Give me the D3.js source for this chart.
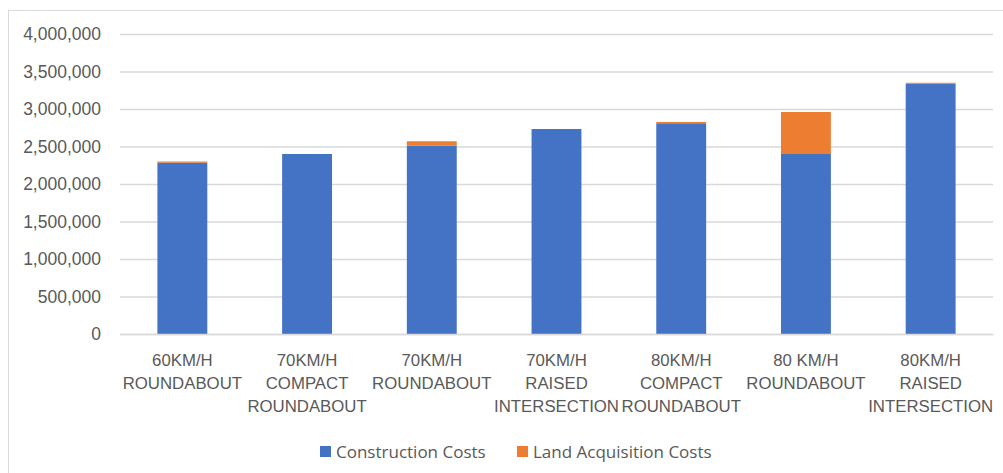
<!DOCTYPE html>
<html>
<head>
<meta charset="utf-8">
<script src="https://cdn.jsdelivr.net/npm/d3@7"></script>
<style>
  html, body { margin: 0; padding: 0; background: #fff; }
  svg { display: block; font-family: "Open Sans", "Liberation Sans", sans-serif; }
</style>
</head>
<body>
<svg id="chart" width="1003" height="473"></svg>
<script>
// Intersection options: cost breakdown
const categories = [
  "60KM/H\nROUNDABOUT",
  "70KM/H\nCOMPACT\nROUNDABOUT",
  "70KM/H\nROUNDABOUT",
  "70KM/H\nRAISED\nINTERSECTION",
  "80KM/H\nCOMPACT\nROUNDABOUT",
  "80 KM/H\nROUNDABOUT",
  "80KM/H\nRAISED\nINTERSECTION"
];
const constructionCosts = [2285000, 2400000, 2510000, 2733000, 2810000, 2400000, 3337000];
const landAcquisitionCosts = [15000, 0, 60000, 0, 17000, 560000, 13000];
const seriesNames = ["Construction Costs", "Land Acquisition Costs"];
const seriesColors = ["#4472C4", "#ED7D31"];
const yTicks = [0, 500000, 1000000, 1500000, 2000000, 2500000, 3000000, 3500000, 4000000];

const svg = d3.select("#chart");
const plot = { left: 120, right: 993, top: 34, bottom: 334 };
const textColor = "#595959";
const gridColor = "#d9d9d9";

// chart frame
svg.append("rect")
  .attr("x", 8.5).attr("y", 10.5)
  .attr("width", 1010).attr("height", 480)
  .attr("fill", "#fff").attr("stroke", gridColor).attr("stroke-width", 1);

const x = d3.scaleBand()
  .domain(categories)
  .range([plot.left, plot.right])
  .paddingInner(0.6)
  .paddingOuter(0.3);

const y = d3.scaleLinear()
  .domain([0, 4000000])
  .range([plot.bottom, plot.top]);

// gridlines + value labels
const yAxis = d3.axisLeft(y)
  .tickValues(yTicks)
  .tickFormat(d3.format(","))
  .tickSize(-(plot.right - plot.left))
  .tickPadding(19);

const gy = svg.append("g")
  .attr("transform", `translate(${plot.left},0)`)
  .call(yAxis);
gy.select(".domain").remove();
gy.selectAll(".tick line").attr("stroke", gridColor).attr("stroke-width", 1.3);
gy.selectAll(".tick text")
  .attr("fill", textColor)
  .attr("font-size", 17.5);

// stacked bars
const rows = categories.map((c, i) => ({
  category: c,
  construction: constructionCosts[i],
  land: landAcquisitionCosts[i]
}));
const stack = d3.stack().keys(["construction", "land"]);
const layers = stack(rows);

svg.append("g")
  .selectAll("g")
  .data(layers)
  .join("g")
  .attr("fill", (d, i) => seriesColors[i])
  .selectAll("rect")
  .data(d => d)
  .join("rect")
  .attr("x", d => x(d.data.category))
  .attr("width", x.bandwidth())
  .attr("y", d => y(d[1]))
  .attr("height", d => y(d[0]) - y(d[1]));

// category axis
const xAxis = d3.axisBottom(x).tickSize(0).tickFormat("");
const gx = svg.append("g")
  .attr("transform", `translate(0,${plot.bottom})`)
  .call(xAxis);
gx.select(".domain").attr("stroke", gridColor).attr("stroke-width", 1.3);

gx.selectAll(".tick").each(function (d) {
  const t = d3.select(this).append("text")
    .attr("fill", textColor)
    .attr("font-size", 16.8)
    .attr("text-anchor", "middle")
    .attr("y", 32);
  d.split("\n").forEach((line, i) => {
    t.append("tspan").attr("x", 0).attr("dy", i === 0 ? 0 : 23).text(line);
  });
});

// legend
const legendItems = [
  { name: seriesNames[0], color: seriesColors[0], x: 320 },
  { name: seriesNames[1], color: seriesColors[1], x: 517 }
];
const lg = svg.append("g").selectAll("g")
  .data(legendItems)
  .join("g")
  .attr("transform", d => `translate(${d.x},446)`);
lg.append("rect")
  .attr("width", 11).attr("height", 11)
  .attr("fill", d => d.color);
lg.append("text")
  .attr("x", 16).attr("y", 11.5)
  .attr("fill", textColor)
  .attr("font-size", 17)
  .text(d => d.name);
</script>
</body>
</html>
